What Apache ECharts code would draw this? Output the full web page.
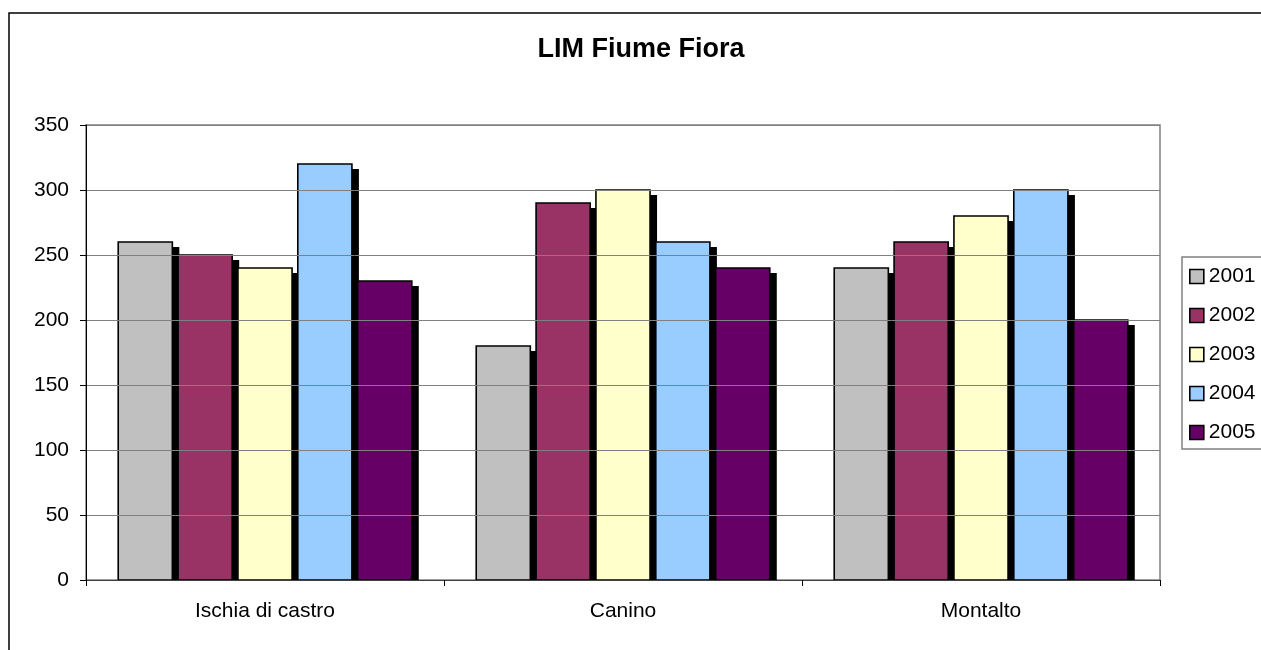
<!DOCTYPE html>
<html>
<head>
<meta charset="utf-8">
<title>LIM Fiume Fiora</title>
<script src="https://cdn.jsdelivr.net/npm/echarts@6/dist/echarts.min.js"></script>
<style>
  html, body { margin: 0; padding: 0; background: #fff; }
  #chart { width: 1261px; height: 650px; }
</style>
</head>
<body>
<div id="chart"></div>
<script>
// Stations along the river and the LIM index per year
const categories = ['Ischia di castro', 'Canino', 'Montalto'];
const years = ['2001', '2002', '2003', '2004', '2005'];
const lim2001 = [260, 180, 240];
const lim2002 = [250, 290, 260];
const lim2003 = [240, 300, 280];
const lim2004 = [320, 260, 300];
const lim2005 = [230, 240, 200];
const yTicks = [0, 50, 100, 150, 200, 250, 300, 350];

const seriesValues = [lim2001, lim2002, lim2003, lim2004, lim2005];
const colors = ['#C0C0C0', '#993366', '#FFFFCC', '#99CCFF', '#660066'];
const FONT = 'Liberation Sans, Arial, sans-serif';

// bar layout inside each category band
const CATEGORY_GAP = 0.18;   // share of the band left empty
const BAR_GAP = 0.106;       // gap between bars, relative to bar width
const SHADOW_DX = 7;
const SHADOW_DY = 5;

function makeRenderer(seriesIdx, count) {
  return function (params, api) {
    const cat = api.value(0);
    const val = api.value(1);
    const top = api.coord([cat, val]);
    const base = api.coord([cat, 0]);
    const band = api.size([1, 0])[0];
    const barW = band * (1 - CATEGORY_GAP) / (count + (count - 1) * BAR_GAP);
    const groupW = barW * count + barW * BAR_GAP * (count - 1);
    const x0 = top[0] - groupW / 2 + seriesIdx * barW * (1 + BAR_GAP);
    const h = base[1] - top[1];
    return {
      type: 'group',
      children: [
        {
          type: 'rect',
          shape: { x: x0 + SHADOW_DX, y: top[1] + SHADOW_DY, width: barW, height: Math.max(0, h - SHADOW_DY) },
          style: { fill: '#000' }
        },
        {
          type: 'rect',
          shape: { x: x0, y: top[1], width: barW, height: h },
          style: { fill: api.visual('color'), stroke: '#000', lineWidth: 1.6 }
        }
      ]
    };
  };
}

const chart = echarts.init(document.getElementById('chart'), null, { renderer: 'canvas' });

const option = {
  animation: false,
  backgroundColor: '#ffffff',
  title: {
    text: 'LIM Fiume Fiora',
    left: 636,
    top: 31,
    textAlign: 'center',
    textStyle: { fontFamily: FONT, fontSize: 27, fontWeight: 'bold', color: '#000' }
  },
  legend: {
    orient: 'vertical',
    left: 1182,
    top: 257,
    padding: [9, 40, 6, 7],
    itemWidth: 14,
    itemHeight: 14,
    itemGap: 18,
    borderColor: '#808080',
    borderWidth: 1.5,
    borderRadius: 0,
    icon: 'rect',
    data: years,
    itemStyle: { borderColor: '#000', borderWidth: 1.6 },
    textStyle: { fontFamily: FONT, fontSize: 21, lineHeight: 21, color: '#000' }
  },
  grid: {
    left: 86,
    right: 101,
    top: 125,
    bottom: 70,
    show: true,
    borderColor: '#808080',
    borderWidth: 1.5,
    backgroundColor: 'transparent'
  },
  xAxis: {
    type: 'category',
    data: categories,
    z: 50,
    axisLine: { lineStyle: { color: '#404040', width: 1 } },
    axisTick: { show: true, length: 6, lineStyle: { color: '#000' } },
    axisLabel: { fontFamily: FONT, fontSize: 21, color: '#000', margin: 21 }
  },
  yAxis: {
    type: 'value',
    min: yTicks[0],
    max: yTicks[yTicks.length - 1],
    interval: 50,
    z: 50,
    axisLine: { show: true, lineStyle: { color: '#000', width: 1 } },
    axisTick: { show: true, length: 6, lineStyle: { color: '#000' } },
    axisLabel: { fontFamily: FONT, fontSize: 21, color: '#000', margin: 17 },
    splitLine: { show: true, lineStyle: { color: '#808080', width: 1 } }
  },
  series: years.map((y, i) => ({
    name: y,
    type: 'custom',
    renderItem: makeRenderer(i, years.length),
    encode: { x: 0, y: 1 },
    data: seriesValues[i].map((v, c) => [c, v]),
    itemStyle: { color: colors[i], borderColor: '#000', borderWidth: 1.6 },
    emphasis: { disabled: true }
  })),
  graphic: [
    // chart frame
    {
      type: 'rect',
      z: 60,
      shape: { x: 9, y: 13, width: 1300, height: 700 },
      style: { fill: 'none', stroke: '#000', lineWidth: 1.5 },
      silent: true
    }
  ]
};

chart.setOption(option);
</script>
</body>
</html>
